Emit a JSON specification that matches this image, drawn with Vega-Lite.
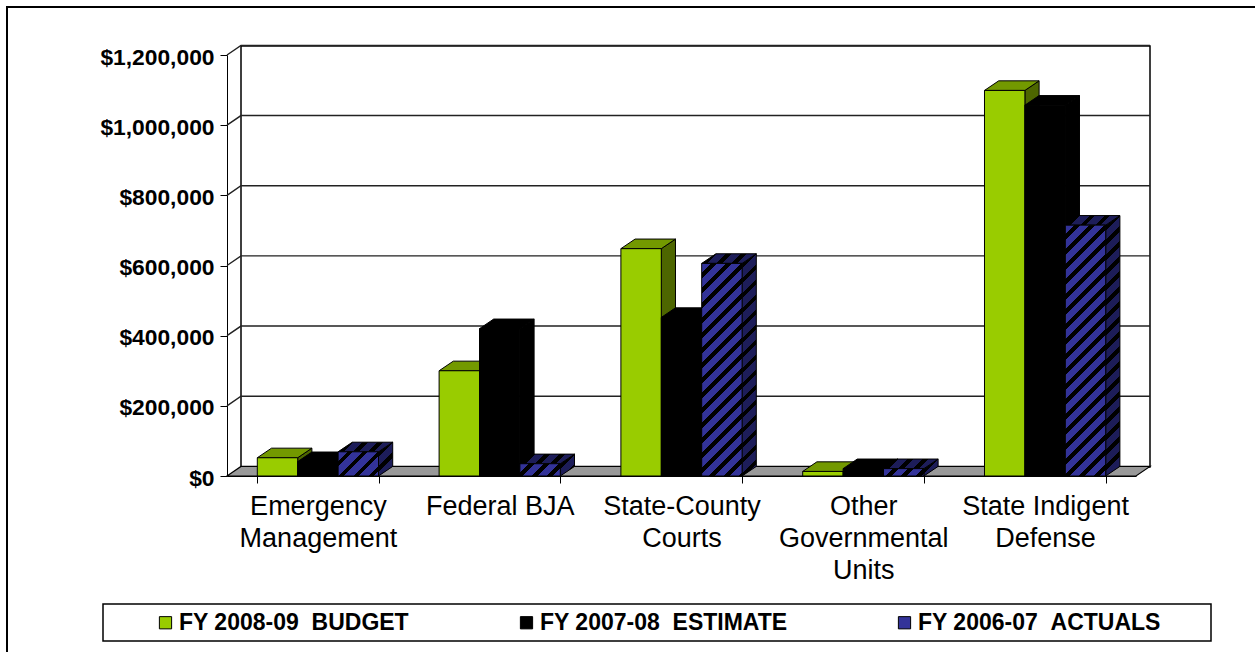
{
  "$schema": "https://vega.github.io/schema/vega-lite/v6.json",
  "autosize": "none",
  "width": 909,
  "height": 421,
  "padding": {"left": 227, "top": 55, "right": 119, "bottom": 176},
  "background": "white",
  "config": {"view": {"stroke": null}},
  "params": [
    {"name": "hatchStops", "value": [
      {"offset":0,"color":"#333399"},{"offset":0.02676,"color":"#333399"},{"offset":0.02676,"color":"#000"},{"offset":0.04348,"color":"#000"},
      {"offset":0.04348,"color":"#333399"},{"offset":0.07024,"color":"#333399"},{"offset":0.07024,"color":"#000"},{"offset":0.08696,"color":"#000"},
      {"offset":0.08696,"color":"#333399"},{"offset":0.11372,"color":"#333399"},{"offset":0.11372,"color":"#000"},{"offset":0.13043,"color":"#000"},
      {"offset":0.13043,"color":"#333399"},{"offset":0.15719,"color":"#333399"},{"offset":0.15719,"color":"#000"},{"offset":0.17391,"color":"#000"},
      {"offset":0.17391,"color":"#333399"},{"offset":0.20067,"color":"#333399"},{"offset":0.20067,"color":"#000"},{"offset":0.21739,"color":"#000"},
      {"offset":0.21739,"color":"#333399"},{"offset":0.24415,"color":"#333399"},{"offset":0.24415,"color":"#000"},{"offset":0.26087,"color":"#000"},
      {"offset":0.26087,"color":"#333399"},{"offset":0.28763,"color":"#333399"},{"offset":0.28763,"color":"#000"},{"offset":0.30435,"color":"#000"},
      {"offset":0.30435,"color":"#333399"},{"offset":0.33111,"color":"#333399"},{"offset":0.33111,"color":"#000"},{"offset":0.34783,"color":"#000"},
      {"offset":0.34783,"color":"#333399"},{"offset":0.37459,"color":"#333399"},{"offset":0.37459,"color":"#000"},{"offset":0.3913,"color":"#000"},
      {"offset":0.3913,"color":"#333399"},{"offset":0.41806,"color":"#333399"},{"offset":0.41806,"color":"#000"},{"offset":0.43478,"color":"#000"},
      {"offset":0.43478,"color":"#333399"},{"offset":0.46154,"color":"#333399"},{"offset":0.46154,"color":"#000"},{"offset":0.47826,"color":"#000"},
      {"offset":0.47826,"color":"#333399"},{"offset":0.50502,"color":"#333399"},{"offset":0.50502,"color":"#000"},{"offset":0.52174,"color":"#000"},
      {"offset":0.52174,"color":"#333399"},{"offset":0.5485,"color":"#333399"},{"offset":0.5485,"color":"#000"},{"offset":0.56522,"color":"#000"},
      {"offset":0.56522,"color":"#333399"},{"offset":0.59198,"color":"#333399"},{"offset":0.59198,"color":"#000"},{"offset":0.6087,"color":"#000"},
      {"offset":0.6087,"color":"#333399"},{"offset":0.63546,"color":"#333399"},{"offset":0.63546,"color":"#000"},{"offset":0.65217,"color":"#000"},
      {"offset":0.65217,"color":"#333399"},{"offset":0.67893,"color":"#333399"},{"offset":0.67893,"color":"#000"},{"offset":0.69565,"color":"#000"},
      {"offset":0.69565,"color":"#333399"},{"offset":0.72241,"color":"#333399"},{"offset":0.72241,"color":"#000"},{"offset":0.73913,"color":"#000"},
      {"offset":0.73913,"color":"#333399"},{"offset":0.76589,"color":"#333399"},{"offset":0.76589,"color":"#000"},{"offset":0.78261,"color":"#000"},
      {"offset":0.78261,"color":"#333399"},{"offset":0.80937,"color":"#333399"},{"offset":0.80937,"color":"#000"},{"offset":0.82609,"color":"#000"},
      {"offset":0.82609,"color":"#333399"},{"offset":0.85285,"color":"#333399"},{"offset":0.85285,"color":"#000"},{"offset":0.86957,"color":"#000"},
      {"offset":0.86957,"color":"#333399"},{"offset":0.89633,"color":"#333399"},{"offset":0.89633,"color":"#000"},{"offset":0.91304,"color":"#000"},
      {"offset":0.91304,"color":"#333399"},{"offset":0.9398,"color":"#333399"},{"offset":0.9398,"color":"#000"},{"offset":0.95652,"color":"#000"},
      {"offset":0.95652,"color":"#333399"},{"offset":0.98328,"color":"#333399"},{"offset":0.98328,"color":"#000"},{"offset":1,"color":"#000"}
    ]}
  ],
  "data": {"values": [
    {"fund": "Emergency Management", "series": "FY 2008-09  BUDGET", "amount": 52000},
    {"fund": "Emergency Management", "series": "FY 2007-08  ESTIMATE", "amount": 41000},
    {"fund": "Emergency Management", "series": "FY 2006-07  ACTUALS", "amount": 69000},
    {"fund": "Federal BJA", "series": "FY 2008-09  BUDGET", "amount": 300000},
    {"fund": "Federal BJA", "series": "FY 2007-08  ESTIMATE", "amount": 420000},
    {"fund": "Federal BJA", "series": "FY 2006-07  ACTUALS", "amount": 35000},
    {"fund": "State-County Courts", "series": "FY 2008-09  BUDGET", "amount": 648000},
    {"fund": "State-County Courts", "series": "FY 2007-08  ESTIMATE", "amount": 452000},
    {"fund": "State-County Courts", "series": "FY 2006-07  ACTUALS", "amount": 606000},
    {"fund": "Other Governmental Units", "series": "FY 2008-09  BUDGET", "amount": 13000},
    {"fund": "Other Governmental Units", "series": "FY 2007-08  ESTIMATE", "amount": 21000},
    {"fund": "Other Governmental Units", "series": "FY 2006-07  ACTUALS", "amount": 21000},
    {"fund": "State Indigent Defense", "series": "FY 2008-09  BUDGET", "amount": 1099000},
    {"fund": "State Indigent Defense", "series": "FY 2007-08  ESTIMATE", "amount": 1057000},
    {"fund": "State Indigent Defense", "series": "FY 2006-07  ACTUALS", "amount": 715000}
  ]},
  "transform": [
    {"calculate": "datum.amount * 421 / 1200000", "as": "barHeight"},
    {"calculate": "'M20.2,0 L34.4,-9.6 L34.4,' + (datum.barHeight - 9.6) + ' L20.2,' + datum.barHeight + ' Z'", "as": "sidePath"},
    {"calculate": "{gradient:'linear',x1:0,y1:0,x2:40.4*345/(40.4*40.4+datum.barHeight*datum.barHeight),y2:datum.barHeight*345/(40.4*40.4+datum.barHeight*datum.barHeight),stops:hatchStops}", "as": "frontHatch"},
    {"calculate": "{gradient:'linear',x1:0,y1:0,x2:14.2*345/(14.2*14.2+(datum.barHeight+9.6)*(datum.barHeight+9.6)),y2:(datum.barHeight+9.6)*345/(14.2*14.2+(datum.barHeight+9.6)*(datum.barHeight+9.6)),stops:hatchStops}", "as": "sideHatch"},
    {"calculate": "{gradient:'linear',x1:0,y1:0,x2:54.6*345/(54.6*54.6+9.6*9.6),y2:9.6*345/(54.6*54.6+9.6*9.6),stops:hatchStops}", "as": "topHatch"}
  ],
  "encoding": {
    "y": {
      "field": "amount", "type": "quantitative",
      "scale": {"domain": [0, 1200000], "nice": false},
      "axis": {
        "title": null, "grid": false, "values": [0, 200000, 400000, 600000, 800000, 1000000, 1200000],
        "format": "$,.0f", "labelFont": "Liberation Sans", "labelFontWeight": "bold", "labelFontSize": 22.8, "labelOffset": 2,
        "labelColor": "#000", "tickColor": "#000", "domainColor": "#000", "tickSize": 7, "labelPadding": 6
      }
    },
    "x": {
      "field": "fund", "type": "nominal", "sort": null,
      "scale": {"paddingInner": 0.3333, "paddingOuter": 0.16667},
      "axis": {
        "title": null, "labelAngle": 0, "tickBand": "extent", "tickSize": 7, "tickColor": "#000", "domainColor": "#000",
        "labelFont": "Liberation Sans", "labelFontSize": 27, "labelColor": "#000", "labelPadding": 10, "labelLineHeight": 32,
        "labelLimit": 400, "labelOverlap": false, "labelBaseline": "top",
        "labelExpr": "datum.value == 'Emergency Management' ? ['Emergency','Management'] : datum.value == 'State-County Courts' ? ['State-County','Courts'] : datum.value == 'Other Governmental Units' ? ['Other','Governmental','Units'] : datum.value == 'State Indigent Defense' ? ['State Indigent','Defense'] : datum.value"
      }
    },
    "xOffset": {
      "field": "series", "type": "nominal",
      "sort": ["FY 2008-09  BUDGET", "FY 2007-08  ESTIMATE", "FY 2006-07  ACTUALS"],
      "scale": {"paddingInner": 0, "paddingOuter": 0}
    }
  },
  "layer": [
    {
      "description": "Outer frame; its right and bottom edges run past the page",
      "data": {"values": [{"part": "frame"}]},
      "mark": {"type": "point", "shape": "M-674.5,-258.5 L640,-258.5 L640,440 L-674.5,440 Z", "size": 4, "fill": null, "stroke": "#000", "strokeWidth": 2, "opacity": 1},
      "encoding": {"x": null, "y": null, "xOffset": null}
    },
    {
      "description": "Legend box",
      "data": {"values": [{"part": "legend box"}]},
      "mark": {"type": "point", "shape": "M-578.5,338.5 L529.5,338.5 L529.5,375.5 L-578.5,375.5 Z", "size": 4, "fill": null, "stroke": "#000", "strokeWidth": 1.5, "opacity": 1},
      "encoding": {"x": null, "y": null, "xOffset": null}
    },
    {
      "description": "Back wall of the 3-D plot box",
      "data": {"values": [{"part": "wall"}]},
      "mark": {"type": "point", "shape": "M-440.5,-219.6 L468.5,-219.6 L468.5,201.4 L-440.5,201.4 Z", "size": 4, "filled": true, "fill": "white", "stroke": "#000", "strokeWidth": 1.5, "opacity": 1},
      "encoding": {"x": null, "y": null, "xOffset": null}
    },
    {
      "description": "Grid: a slanted run across the left wall, then the line along the back wall",
      "data": {"values": [{"tick": 200000}, {"tick": 400000}, {"tick": 600000}, {"tick": 800000}, {"tick": 1000000}, {"tick": 1200000}]},
      "mark": {"type": "point", "shape": "M-454.5,0 L-440.5,-9.6 L468.5,-9.6", "size": 4, "stroke": "#222", "strokeWidth": 1.4, "fill": null, "opacity": 1},
      "encoding": {"x": null, "xOffset": null, "y": {"field": "tick", "type": "quantitative"}}
    },
    {
      "description": "Grey floor",
      "data": {"values": [{"tick": 0}]},
      "mark": {"type": "point", "shape": "M-454.5,0 L-440.5,-9.6 L468.5,-9.6 L454.5,0 Z", "size": 4, "filled": true, "fill": "#999999", "stroke": "#000", "strokeWidth": 1.2, "opacity": 1},
      "encoding": {"x": null, "xOffset": null, "y": {"field": "tick", "type": "quantitative"}}
    },
    {
      "description": "Budget series: side, top and front faces",
      "transform": [{"filter": "datum.series == 'FY 2008-09  BUDGET'"}],
      "layer": [
        {"mark": {"type": "point", "filled": true, "fill": "#4D6600", "stroke": "#000", "strokeWidth": 1, "size": 4, "opacity": 1},
         "encoding": {"shape": {"field": "sidePath", "type": "nominal", "scale": null, "legend": null}}},
        {"mark": {"type": "point", "shape": "M-20.2,0 L-6,-9.6 L34.4,-9.6 L20.2,0 Z", "filled": true, "fill": "#739900", "stroke": "#000", "strokeWidth": 1, "size": 4, "opacity": 1}},
        {"mark": {"type": "bar", "fill": "#99CC00", "stroke": "#000", "strokeWidth": 1}}
      ]
    },
    {
      "description": "Estimate series: all faces solid black",
      "transform": [{"filter": "datum.series == 'FY 2007-08  ESTIMATE'"}],
      "layer": [
        {"mark": {"type": "point", "filled": true, "fill": "#000", "stroke": "#000", "strokeWidth": 1, "size": 4, "opacity": 1},
         "encoding": {"shape": {"field": "sidePath", "type": "nominal", "scale": null, "legend": null}}},
        {"mark": {"type": "point", "shape": "M-20.2,0 L-6,-9.6 L34.4,-9.6 L20.2,0 Z", "filled": true, "fill": "#000", "stroke": "#000", "strokeWidth": 1, "size": 4, "opacity": 1}},
        {"mark": {"type": "bar", "fill": "#000", "stroke": "#000", "strokeWidth": 1}}
      ]
    },
    {
      "description": "Actuals series: hatched faces, with side and top darkened",
      "transform": [{"filter": "datum.series == 'FY 2006-07  ACTUALS'"}],
      "layer": [
        {"mark": {"type": "point", "filled": true, "size": 4, "opacity": 1},
         "encoding": {
           "shape": {"field": "sidePath", "type": "nominal", "scale": null, "legend": null},
           "fill": {"field": "sideHatch", "type": "nominal", "scale": null, "legend": null}}},
        {"mark": {"type": "point", "filled": true, "fill": "#000", "fillOpacity": 0.42, "stroke": "#000", "strokeWidth": 1, "size": 4, "opacity": 1},
         "encoding": {"shape": {"field": "sidePath", "type": "nominal", "scale": null, "legend": null}}},
        {"mark": {"type": "point", "shape": "M-20.2,0 L-6,-9.6 L34.4,-9.6 L20.2,0 Z", "filled": true, "size": 4, "opacity": 1},
         "encoding": {"fill": {"field": "topHatch", "type": "nominal", "scale": null, "legend": null}}},
        {"mark": {"type": "point", "shape": "M-20.2,0 L-6,-9.6 L34.4,-9.6 L20.2,0 Z", "filled": true, "fill": "#000", "fillOpacity": 0.42, "stroke": "#000", "strokeWidth": 1, "size": 4, "opacity": 1}},
        {"mark": {"type": "bar", "stroke": "#000", "strokeWidth": 1},
         "encoding": {"fill": {"field": "frontHatch", "type": "nominal", "scale": null, "legend": null}}}
      ]
    },
    {
      "description": "Zero-size marks that carry the series legend",
      "mark": {"type": "point", "filled": true, "size": 0, "opacity": 1},
      "encoding": {
        "color": {
          "field": "series", "type": "nominal",
          "scale": {
            "domain": ["FY 2008-09  BUDGET", "FY 2007-08  ESTIMATE", "FY 2006-07  ACTUALS"],
            "range": ["#99CC00", "#000000", "#333399"]
          },
          "legend": {
            "title": null, "orient": "none", "legendX": -73, "legendY": 556, "direction": "horizontal", "columns": 3, "gridAlign": "each",
            "columnPadding": 105, "symbolType": "square", "symbolSize": 150, "symbolOpacity": 1,
            "labelFont": "Liberation Sans", "labelFontWeight": "bold", "labelFontSize": 23, "labelColor": "#000", "labelOffset": 2, "labelLimit": 400, "padding": 0,
            "labelExpr": "replace(datum.label, '  ', '\u00a0\u00a0')",
            "encoding": {"symbols": {
              "stroke": {"value": "#000"},
              "strokeWidth": {"value": 1},
              "fill": {"value": {"expr": "datum.value == 'FY 2006-07  ACTUALS' ? {gradient:'linear',x1:0,y1:0,x2:1,y2:1,stops:[{offset:0,color:'#000'},{offset:0.3,color:'#000'},{offset:0.3,color:'#333399'},{offset:0.8,color:'#333399'},{offset:0.8,color:'#000'},{offset:1,color:'#000'}]} : datum.value == 'FY 2007-08  ESTIMATE' ? '#000' : '#99CC00'"}}
            }}
          }
        }
      }
    }
  ]
}
